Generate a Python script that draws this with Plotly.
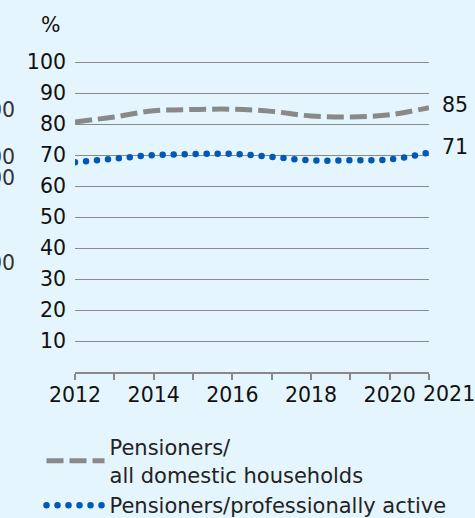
import plotly.graph_objects as go

years = [2012, 2013, 2014, 2015, 2016, 2017, 2018, 2019, 2020, 2021]
all_households = [80.7, 82.3, 84.3, 84.7, 84.8, 84.1, 82.6, 82.3, 83.0, 85.3]
prof_active = [67.7, 68.8, 70.0, 70.3, 70.4, 69.4, 68.3, 68.3, 68.6, 70.8]
end_labels = ["85", "71"]
series_names = ["Pensioners/<br>all domestic households", "Pensioners/professionally active"]
y_ticks = [10, 20, 30, 40, 50, 60, 70, 80, 90, 100]
x_ticktext = ["2012", "", "2014", "", "2016", "", "2018", "", "2020", ""]
last_label = "2021"
cut_labels = ["00", "00", "00", "00"]
cut_label_y = [110, 157, 178, 263]

FONT = "DejaVu Sans"
GRAY = "#898989"
BLUE = "#0058b8"
BG = "#e5f5fd"
TXT = "#111111"
TS = 20.5
LS = 21

fig = go.Figure()
fig.add_trace(go.Scatter(
    x=years, y=all_households, mode="lines", name=series_names[0], legend="legend",
    line=dict(color=GRAY, width=5, dash="17px,6px", shape="spline", smoothing=1.0),
))
fig.add_trace(go.Scatter(
    x=years, y=prof_active, mode="lines", name=series_names[1], legend="legend2",
    line=dict(color=BLUE, width=6.5, dash="0px,11px", shape="spline", smoothing=1.0),
))

ann = []
for vals, lab, ys in zip([all_households, prof_active], end_labels, [3, 6]):
    ann.append(dict(x=years[-1], y=vals[-1], xref="x", yref="y", text=lab,
                    showarrow=False, xanchor="left", yanchor="middle",
                    xshift=11, yshift=ys, font=dict(family=FONT, size=TS, color=TXT)))
ann.append(dict(x=years[-1], y=0, xref="x", yref="y", text=last_label, showarrow=False,
                xanchor="left", yanchor="middle", xshift=-8, yshift=-22,
                font=dict(family=FONT, size=TS, color=TXT)))
ann.append(dict(x=0, y=1, xref="paper", yref="paper", text="%", showarrow=False,
                xanchor="center", yanchor="middle", xshift=-25, yshift=34,
                font=dict(family=FONT, size=TS, color=TXT)))
for t, py in zip(cut_labels, cut_label_y):
    ann.append(dict(x=0, y=1 - (py - 59) / 313, xref="paper", yref="paper", text=t,
                    showarrow=False, xanchor="right", yanchor="middle", xshift=-58,
                    font=dict(family=FONT, size=TS, color="#333333")))

leg_common = dict(xanchor="left", yanchor="top", bgcolor="rgba(0,0,0,0)",
                  font=dict(family=FONT, size=LS, color="#222222"), itemwidth=58)
fig.update_layout(
    width=475, height=518,
    margin=dict(l=75, r=46, t=59, b=146, autoexpand=False),
    paper_bgcolor=BG, plot_bgcolor=BG,
    font=dict(family=FONT, size=TS, color=TXT),
    showlegend=True,
    legend=dict(x=-0.0946, y=-0.1757, **leg_common),
    legend2=dict(x=-0.0946, y=-0.361, **leg_common),
    annotations=ann,
)
fig.update_xaxes(range=[2012, 2021], tickmode="array", tickvals=years, ticktext=x_ticktext,
                 showgrid=False, zeroline=False, showline=True, linecolor=GRAY, linewidth=1.5,
                 ticks="outside", ticklen=6, tickcolor=GRAY, tickwidth=1.5,
                 ticklabelstandoff=-2,
                 tickfont=dict(family=FONT, size=TS, color=TXT))
fig.update_yaxes(range=[0, 101], tickmode="array", tickvals=y_ticks, showgrid=True,
                 gridcolor=GRAY, gridwidth=1.2, zeroline=False, showline=False, ticks="",
                 ticklabelstandoff=8, tickfont=dict(family=FONT, size=TS, color=TXT))

post = """
document.body.style.margin = '0';
var s = document.createElement('style');
s.textContent = '.scatterlayer .trace:nth-of-type(2) path.js-line, .legend2 path.js-line, g.legend2 path.js-line {stroke-linecap: round !important;}';
document.head.appendChild(s);
"""
fig.write_html("out.html", post_script=post, config={"displayModeBar": False})
